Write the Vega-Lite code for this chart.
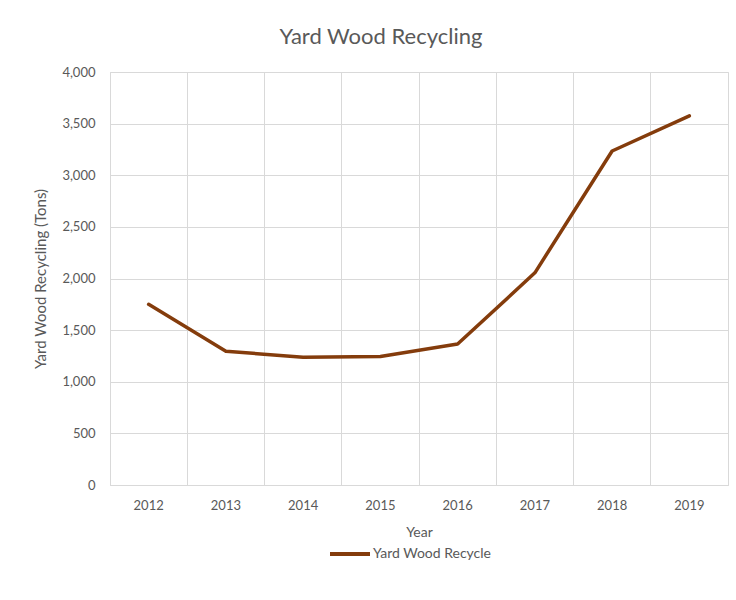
{
  "$schema": "https://vega.github.io/schema/vega-lite/v6.json",
  "width": 618,
  "height": 413,
  "autosize": {"type": "none"},
  "padding": {"left": 110, "top": 72, "right": 8, "bottom": 115},
  "background": "white",
  "title": {
    "text": "Yard Wood Recycling",
    "anchor": "middle",
    "dx": -38,
    "offset": 17,
    "fontSize": 22,
    "fontWeight": "normal",
    "font": "Lato",
    "color": "#595959"
  },
  "data": {
    "values": [
      {"Year": "2012", "Tons": 1750, "Series": "Yard Wood Recycle"},
      {"Year": "2013", "Tons": 1295, "Series": "Yard Wood Recycle"},
      {"Year": "2014", "Tons": 1238, "Series": "Yard Wood Recycle"},
      {"Year": "2015", "Tons": 1245, "Series": "Yard Wood Recycle"},
      {"Year": "2016", "Tons": 1365, "Series": "Yard Wood Recycle"},
      {"Year": "2017", "Tons": 2055, "Series": "Yard Wood Recycle"},
      {"Year": "2018", "Tons": 3235, "Series": "Yard Wood Recycle"},
      {"Year": "2019", "Tons": 3575, "Series": "Yard Wood Recycle"}
    ]
  },
  "mark": {"type": "line", "strokeWidth": 3.5, "strokeCap": "round", "strokeJoin": "round"},
  "encoding": {
    "x": {
      "field": "Year",
      "type": "ordinal",
      "bandPosition": 0.5,
      "scale": {"type": "band", "paddingInner": 0, "paddingOuter": 0},
      "axis": {
        "title": "Year",
        "bandPosition": 0,
        "grid": true,
        "gridColor": "#d9d9d9",
        "gridWidth": 1,
        "ticks": false,
        "domainColor": "#d9d9d9",
        "labelAngle": 0,
        "labelPadding": 14,
        "titlePadding": 13,
        "labelFontSize": 13,
        "titleFontSize": 14,
        "titleFontWeight": "normal",
        "labelColor": "#595959",
        "titleColor": "#595959",
        "labelFont": "Lato",
        "titleFont": "Lato"
      }
    },
    "y": {
      "field": "Tons",
      "type": "quantitative",
      "scale": {"domain": [0, 4000]},
      "axis": {
        "title": "Yard Wood Recycling (Tons)",
        "values": [0, 500, 1000, 1500, 2000, 2500, 3000, 3500, 4000],
        "format": ",d",
        "domain": false,
        "ticks": false,
        "grid": true,
        "gridColor": "#d9d9d9",
        "gridWidth": 1,
        "labelPadding": 15,
        "titlePadding": 13,
        "labelFontSize": 13,
        "titleFontSize": 15,
        "titleFontWeight": "normal",
        "labelColor": "#595959",
        "titleColor": "#595959",
        "labelFont": "Lato",
        "titleFont": "Lato"
      }
    },
    "color": {
      "field": "Series",
      "type": "nominal",
      "scale": {"range": ["#843C0C"]},
      "legend": {
        "title": null,
        "orient": "none",
        "legendX": 218,
        "legendY": 460,
        "symbolType": "stroke",
        "symbolSize": 1600,
        "symbolStrokeWidth": 4,
        "labelFontSize": 14,
        "labelColor": "#595959",
        "labelFont": "Lato",
        "labelOffset": 1
      }
    }
  },
  "config": {
    "view": {"stroke": "#d9d9d9", "strokeWidth": 1}
  }
}
